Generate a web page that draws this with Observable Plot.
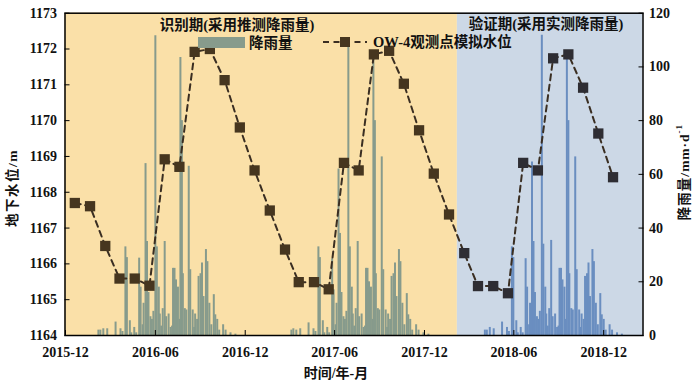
<!DOCTYPE html>
<html><head><meta charset="utf-8">
<script src="https://cdn.jsdelivr.net/npm/d3@7"></script>
<script src="https://cdn.jsdelivr.net/npm/@observablehq/plot@0.6"></script>
<style>body{margin:0;background:#fff;} #chart{position:relative;width:700px;height:384px;}</style>
</head><body><div id="chart"></div>
<script>
// ---- data ----
const levelMonths = ["2015-12","2016-01","2016-02","2016-03","2016-04","2016-05","2016-06","2016-07","2016-08","2016-09","2016-10","2016-11",
  "2016-12","2017-01","2017-02","2017-03","2017-04","2017-05","2017-06","2017-07","2017-08","2017-09","2017-10","2017-11",
  "2017-12","2018-01","2018-02","2018-03","2018-04","2018-05","2018-06","2018-07","2018-08","2018-09","2018-10","2018-11","2018-12"];
const levelValues = [1167.70,1167.61,1166.50,1165.59,1165.59,1165.39,1168.92,1168.71,1171.92,1172.00,1171.13,1169.81,
  1168.61,1167.49,1166.40,1165.49,1165.49,1165.29,1168.82,1168.61,1171.85,1171.95,1171.03,1169.73,
  1168.52,1167.38,1166.30,1165.38,1165.38,1165.18,1168.82,1168.61,1171.74,1171.85,1170.92,1169.64,1168.42];
const levelDay = 20;
const rainPeakDates = ["2016-06-01","2017-06-29","2018-07-28"];
const rainDayOffsets = [-116,-112,-106,-98,-81, -71,-67,-61,-58,-52, -49,-43,-39,-33,-30, -26,-24,-20,-17,-14,
  -10,-7,-4,0,3, 7,9,12,15,19, 22,27,31,34,36, 39,42,46,49,51, 54,56,60,63,68, 71,76,79,81,85,
  88,92,95,98,103, 106,110,114,119,122, 126,130,138,143,153, 163];
const rain2016 = [2,2,2.5,2.5,5, 2.5,1.5,33,29,5.5, 1,3,1,28.8,18, 4,12,64,35,16,
  7,6,9,111.6,33, 18,8,3.5,10,35, 7,8,3,3.5,25, 25,20.7,18,6,103.5, 80,23,10,9.5,63, 24.5,9.5,3,8,6,
  22,23,27,14.5,32, 27.5,12,4,15.2,7.7, 6,2,4,2,1, 0.5];
const rain2017 = [2,2.5,2,2.5,4.7, 2.5,1.5,33,29,5.5, 1,3,1,28.6,17, 4,12,62,38,16,
  7,6,9,110,33, 18,8,3.5,10,35, 7,8,3,3.5,25, 25,20,18,6,105, 80,23,10,9.5,66.5, 24.5,9.5,3,8,6,
  22,23,27,14.5,32, 27.5,12,4,15.6,7.7, 6,2,4,2,1, 0.5];
const rain2018 = [2,2,3,2.5,5, 3,1.5,33,29,5.5, 1,3,1,28.6,18, 4,12,64.6,35,16,
  7,6,9,111.8,34, 18,8,3.5,10,35.4, 7,8,3,3.5,25, 25,20.7,18,6,103.7, 80,23,10,9.5,66.5, 24.5,9.5,3,8,6,
  22,23,27,14.5,32, 27.5,12,4,15.6,7.7, 6,2,4,2,1, 0.5];
const periodSplit = "2018-02-06";
const xDomain = ["2015-11-30","2019-02-19"];
const xTicks = ["2015-12","2016-06","2016-12","2017-06","2017-12","2018-06","2018-12"];
const leftTicks = [1164,1165,1166,1167,1168,1169,1170,1171,1172,1173];
const rightTicks = [0,20,40,60,80,100,120];
const levelDomain = [1164,1173];
const rainDomain = [0,120];

// ---- styles ----
const cOrangeBg = "#FAE0A8", cBlueBg = "#CCD8E6";
const cBarGreen = "#879B8C", cBarBlue = "#6A8EC0";
const cMarkBrown = "#46361F", cMarkGrey = "#2E2D33", cLine = "#3A2E22";
const numFont = "'Liberation Serif', 'Times New Roman', serif";
const cjkFont = "'Liberation Serif', 'Noto Sans CJK SC', serif";

const parse = s => new Date(s.length === 7 ? s + "-01T00:00:00Z" : s + "T00:00:00Z");
const split = parse(periodSplit);
const toLevel = r => levelDomain[0] + r * (levelDomain[1] - levelDomain[0]) / (rainDomain[1] - rainDomain[0]);
const fromLevel = v => Math.round((v - levelDomain[0]) * (rainDomain[1] - rainDomain[0]) / (levelDomain[1] - levelDomain[0]));

const levels = levelMonths.map((m, i) => ({date: new Date(m + "-" + String(levelDay).padStart(2, "0") + "T00:00:00Z"), value: levelValues[i]}));
const rain = [];
[rain2016, rain2017, rain2018].forEach((arr, k) => {
  const peak = parse(rainPeakDates[k]);
  arr.forEach((v, i) => rain.push({date: d3.utcDay.offset(peak, rainDayOffsets[i]), value: v}));
});
const d0 = parse(xDomain[0]), d1 = parse(xDomain[1]);
const xTickDates = xTicks.map(parse);

const plot = Plot.plot({
  width: 700, height: 384,
  marginLeft: 64.5, marginRight: 57.5, marginTop: 12.7, marginBottom: 49,
  x: {type: "utc", domain: [d0, d1]},
  y: {domain: levelDomain},
  style: {fontFamily: numFont, fontSize: "14px", fontWeight: "bold", color: "#111", background: "transparent", overflow: "visible"},
  marks: [
    Plot.rect([{a: d0, b: split}], {x1: "a", x2: "b", y1: levelDomain[0], y2: levelDomain[1], fill: cOrangeBg}),
    Plot.rect([{a: split, b: d1}], {x1: "a", x2: "b", y1: levelDomain[0], y2: levelDomain[1], fill: cBlueBg}),
    Plot.ruleX(rain.filter(d => d.date < split), {x: "date", y1: levelDomain[0], y2: d => toLevel(d.value), stroke: cBarGreen, strokeWidth: 2}),
    Plot.ruleX(rain.filter(d => d.date >= split), {x: "date", y1: levelDomain[0], y2: d => toLevel(d.value), stroke: cBarBlue, strokeWidth: 2}),
    Plot.line(levels, {x: "date", y: "value", stroke: cLine, strokeWidth: 2, strokeDasharray: "6,4.5"}),
    Plot.dot(levels.filter(d => d.date < split), {x: "date", y: "value", symbol: "square", r: 5.8, fill: cMarkBrown, stroke: null}),
    Plot.dot(levels.filter(d => d.date >= split), {x: "date", y: "value", symbol: "square", r: 5.8, fill: cMarkGrey, stroke: null}),
    Plot.axisX({ticks: xTickDates, tickFormat: d3.utcFormat("%Y-%m"), tickSize: 0, tickPadding: 12, label: null}),
    Plot.axisX({ticks: xTickDates, tickFormat: () => "", tickSize: 5, insetBottom: 5, label: null, stroke: "#000"}),
    Plot.axisY({ticks: leftTicks, tickFormat: d => String(d), tickSize: 0, tickPadding: 8, label: null}),
    Plot.axisY({ticks: leftTicks, tickFormat: () => "", tickSize: 5, insetLeft: 5, label: null, stroke: "#000"}),
    Plot.axisY({anchor: "right", ticks: rightTicks.map(toLevel), tickFormat: v => String(fromLevel(v)), tickSize: 0, tickPadding: 6, label: null}),
    Plot.axisY({anchor: "right", ticks: rightTicks.map(toLevel), tickFormat: () => "", tickSize: 5, insetRight: 5, label: null, stroke: "#000"}),
    Plot.frame({stroke: "#000", strokeWidth: 1.5})
  ]
});
document.getElementById("chart").appendChild(plot);

// ---- overlay: titles, legend, axis labels ----
const svg = d3.select(plot);
const g = svg.append("g").attr("font-family", cjkFont).attr("font-weight", "bold").attr("fill", "#111");
const t = (x, y, s, size, anchor = "middle") => g.append("text").attr("x", x).attr("y", y).attr("text-anchor", anchor)
  .attr("dominant-baseline", "central").attr("font-size", size).text(s);
t(237, 25, "识别期(采用推测降雨量)", 14.5);
t(546, 24, "验证期(采用实测降雨量)", 14.5);
g.append("rect").attr("x", 198).attr("y", 37).attr("width", 47).attr("height", 11).attr("fill", cBarGreen);
t(249, 43, "降雨量", 14.5, "start");
g.append("line").attr("x1", 323).attr("x2", 367).attr("y1", 42).attr("y2", 42).attr("stroke", cLine).attr("stroke-width", 2).attr("stroke-dasharray", "6,4.5");
g.append("rect").attr("x", 340).attr("y", 37).attr("width", 10).attr("height", 10).attr("fill", cMarkBrown);
t(373, 42, "OW-4观测点模拟水位", 14.5, "start");
t(336, 373, "时间/年-月", 14);
g.append("text").attr("transform", "translate(12,188) rotate(-90)").attr("text-anchor", "middle").attr("dominant-baseline", "central")
  .attr("font-size", 13.5).attr("letter-spacing", 1.5).text("地下水位/m");
const rl = g.append("text").attr("transform", "translate(684,172) rotate(-90)").attr("text-anchor", "middle").attr("dominant-baseline", "central")
  .attr("font-size", 13.5).attr("letter-spacing", 1);
rl.append("tspan").text("降雨量/mm·d");
rl.append("tspan").attr("baseline-shift", "super").attr("font-size", 9).text("-1");
</script></body></html>
